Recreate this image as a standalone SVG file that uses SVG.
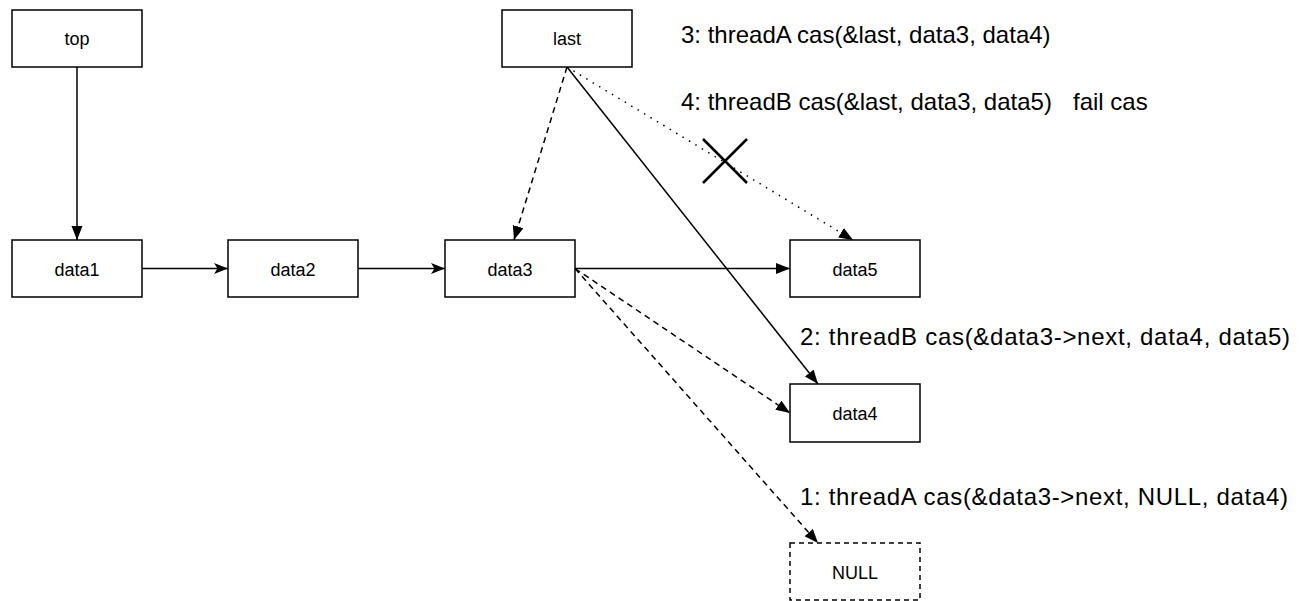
<svg xmlns="http://www.w3.org/2000/svg" width="1310" height="601" viewBox="0 0 1310 601">
<style>
.box{fill:#fff;stroke:#000;stroke-width:1.5}
.dashbox{fill:#fff;stroke:#000;stroke-width:1.5;stroke-dasharray:5 4}
.lbl{font-family:"Liberation Sans",Arial,Helvetica,sans-serif;font-size:18px;fill:#000;text-anchor:middle}
.note{font-family:"Liberation Sans",Arial,Helvetica,sans-serif;font-size:24px;fill:#000}
.ln{fill:none;stroke:#000;stroke-width:1.5}
.dash{stroke-dasharray:6 4.5}
.dot{stroke-dasharray:1.5 6}
</style>
<defs>
<marker id="block" markerUnits="userSpaceOnUse" markerWidth="15" markerHeight="12" refX="14" refY="5.5" orient="auto">
<path d="M0,0 L14,5.5 L0,11 Z" fill="#000"/>
</marker>
<marker id="classic" markerUnits="userSpaceOnUse" markerWidth="15" markerHeight="12" refX="14" refY="5.5" orient="auto">
<path d="M0,0 L14,5.5 L0,11 L3.5,5.5 Z" fill="#000"/>
</marker>
</defs>
<g id="connectors">
<path class="ln" d="M77,67 L77,240" marker-end="url(#block)"/>
<path class="ln" d="M142,268.5 L228,268.5" marker-end="url(#classic)"/>
<path class="ln" d="M358,268.5 L445,268.5" marker-end="url(#classic)"/>
<path class="ln" d="M575,268.5 L790,268.5" marker-end="url(#block)"/>
<path class="ln dash" d="M567,67 L514,240" marker-end="url(#block)"/>
<path class="ln" d="M567,67 L818,384" marker-end="url(#block)"/>
<path class="ln dot" d="M567,67 L853,240" marker-end="url(#block)"/>
<path class="ln dash" d="M575,268.5 L790,413" marker-end="url(#block)"/>
<path class="ln dash" d="M575,268.5 L818,543" marker-end="url(#block)"/>
</g>
<g id="fail-mark">
<path d="M703,139 L747,183 M703,183 L747,139" stroke="#000" stroke-width="2.5" fill="none"/>
</g>
<g id="top"><rect class="box" x="12" y="10" width="130" height="57"/><text class="lbl" x="77" y="45">top</text></g>
<g id="last"><rect class="box" x="502" y="10" width="130" height="57"/><text class="lbl" x="567" y="45">last</text></g>
<g id="data1"><rect class="box" x="12" y="240" width="130" height="57"/><text class="lbl" x="77" y="276">data1</text></g>
<g id="data2"><rect class="box" x="228" y="240" width="130" height="57"/><text class="lbl" x="293" y="276">data2</text></g>
<g id="data3"><rect class="box" x="445" y="240" width="130" height="57"/><text class="lbl" x="510" y="276">data3</text></g>
<g id="data5"><rect class="box" x="790" y="240" width="130" height="57"/><text class="lbl" x="855" y="276">data5</text></g>
<g id="data4"><rect class="box" x="790" y="384" width="130" height="58"/><text class="lbl" x="855" y="420">data4</text></g>
<g id="null"><rect class="dashbox" x="790" y="543" width="130" height="57"/><text class="lbl" x="855" y="579">NULL</text></g>
<g id="notes">
<text class="note" x="681" y="43">3: threadA cas(&amp;last, data3, data4)</text>
<text class="note" x="681" y="110">4: threadB cas(&amp;last, data3, data5)</text>
<text class="note" x="1073" y="110">fail cas</text>
<text class="note" x="800" y="345" textLength="490" lengthAdjust="spacing">2: threadB cas(&amp;data3-&gt;next, data4, data5)</text>
<text class="note" x="800" y="505" textLength="488" lengthAdjust="spacing">1: threadA cas(&amp;data3-&gt;next, NULL, data4)</text>
</g>
</svg>
